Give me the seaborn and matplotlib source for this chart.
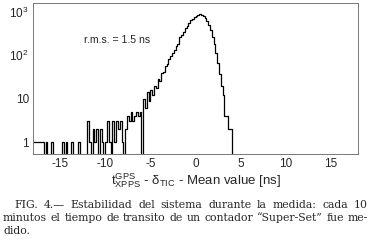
import numpy as np
import pandas as pd
import matplotlib
matplotlib.use("Agg")
import matplotlib.pyplot as plt
import matplotlib.ticker as mticker
import seaborn as sns

# histogram: bins of 0.2 ns starting at -18 ns
bin_start = -18.0
bin_width = 0.2
counts = [
    1, 1, 1, 1, 1, 1, 0, 1, 0, 0,          # -18.0 .. -16.2
    1, 0, 0, 0, 0, 0, 1, 0, 1, 0,          # -16.0 .. -14.2
    0, 1, 0, 0, 0, 1, 0, 0, 0, 0,          # -14.0 .. -12.2
    3, 1, 0, 2, 1, 2, 0, 2, 1, 0,          # -12.0 .. -10.2
    1, 3, 1, 0, 3, 1, 3, 2, 3, 1,          # -10.0 .. -8.2
    0, 2, 4, 3, 5, 3, 4, 5, 4, 5,          # -8.0 .. -6.2
    0, 10, 6, 14, 9, 16, 12, 20, 18, 28,   # -6.0 .. -4.2
    26, 40, 42, 58, 62, 82, 95, 115, 130, 165,  # -4.0 .. -2.2
    185, 260, 300, 350, 420, 480, 560, 640, 700, 760,  # -2.0 .. -0.2
    820, 860, 880, 870, 820, 720, 620, 500, 380, 270,  # 0.0 .. 1.8
    180, 110, 65, 38, 20, 12, 4, 4, 2, 2,  # 2.0 .. 3.8
    0,                                      # 4.0
]
y_ticks = [1, 10, 100, 1000]
y_labels = ["1", "10", "10$^2$", "10$^3$"]
rms_text = "r.m.s. = 1.5 ns"
x_label = r"$\mathrm{t}^{\mathrm{GPS}}_{\mathrm{XPPS}}$ - δ$_{\mathrm{TIC}}$ - Mean value [ns]"
caption = [
    "FIG. 4.— Estabilidad del sistema durante la medida: cada 10",
    "minutos el tiempo de transito de un contador “Super-Set” fue me-",
    "dido.",
]

edges = [bin_start + bin_width * i for i in range(len(counts) + 1)]
df = pd.DataFrame({
    "t": [e + bin_width / 2 for e in edges[:-1]],
    "n": counts,
})

sns.set_style("white")
plt.rcParams["font.family"] = ["Liberation Sans", "DejaVu Sans"]
plt.rcParams["mathtext.fontset"] = "custom"
plt.rcParams["mathtext.rm"] = "Liberation Sans"
plt.rcParams["mathtext.it"] = "Liberation Sans:italic"
plt.rcParams["axes.unicode_minus"] = False

W, H = 373, 243
fig = plt.figure(figsize=(W / 100, H / 100), dpi=100)
ax = fig.add_axes([0.0885, 0.366, 0.8715, 0.622])

sns.histplot(data=df, x="t", weights="n", bins=edges, element="step",
             fill=False, color="black", linewidth=0.9, ax=ax)
ax.set_yscale("log")
ax.set_xlim(-18, 18)
ax.set_ylim(0.53, 1610)

ax.set_yticks(y_ticks)
ax.set_yticklabels(y_labels)
ax.yaxis.set_minor_locator(mticker.LogLocator(base=10, subs=np.arange(2, 10)))
ax.yaxis.set_minor_formatter(mticker.NullFormatter())
ax.xaxis.set_major_locator(mticker.MultipleLocator(5))
ax.xaxis.set_minor_locator(mticker.MultipleLocator(1))
ax.tick_params(which="both", direction="in", top=False, right=False,
               labelsize=8.5, color="#222222", width=0.7, pad=3)
ax.tick_params(which="major", length=4)
ax.tick_params(which="minor", length=2)

for side in ax.spines.values():
    side.set_color("#777777")
    side.set_linewidth(0.7)

ax.set_ylabel("")
ax.set_xlabel(x_label, fontsize=9.5, labelpad=1)
ax.text(0.26, 0.755, rms_text, transform=ax.transAxes, fontsize=7.6,
        ha="center", va="center")

# caption, justified between the left edge and x=368 px
renderer = fig.canvas.get_renderer()
cap_y = [205, 218, 231]
cap_x = [14, 3, 3]
cap_font = dict(fontsize=7.8, family=["DejaVu Serif"], va="center", ha="left")
for k, (line, yy, xx) in enumerate(zip(caption, cap_y, cap_x)):
    words = line.split(" ")
    if k == len(caption) - 1:
        fig.text(xx / W, 1 - yy / H, line, **cap_font)
        continue
    arts = [fig.text(0, 1 - yy / H, w, **cap_font) for w in words]
    widths = [a.get_window_extent(renderer).width for a in arts]
    gap = (368 - xx - sum(widths)) / (len(words) - 1)
    pos = xx
    for a, w in zip(arts, widths):
        a.set_x(pos / W)
        pos += w + gap

fig.savefig("out.png", dpi=100)
